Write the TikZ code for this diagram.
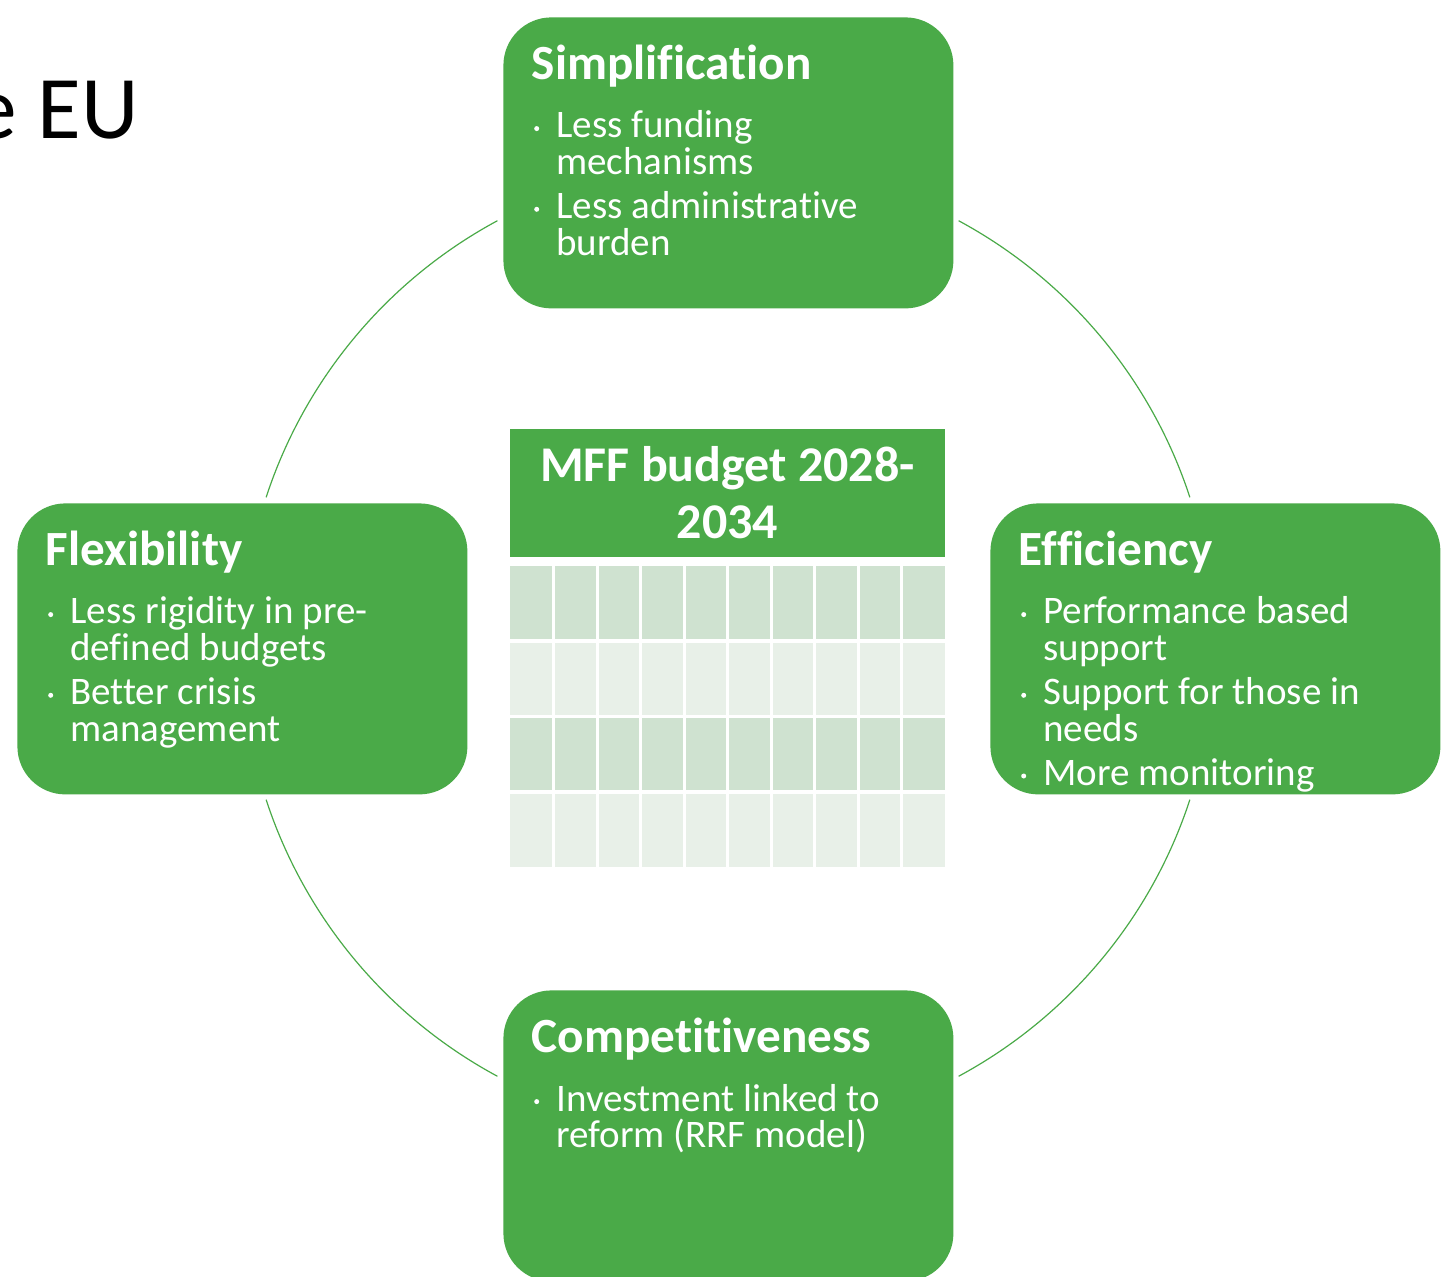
\documentclass[tikz,border=0pt]{standalone}
\usepackage{fontspec}
\setmainfont{Carlito}[Ligatures=NoCommon]
\definecolor{leaf}{HTML}{4AAA48}
\definecolor{rowdark}{HTML}{CFE2D0}
\definecolor{rowlight}{HTML}{E8F0E8}

% one bullet line of a card: name, baseline (relative to card top), text
\newcommand\itemline[3]{\node[itemtxt] (#1) at (53,#2) {#3};}
% the small round bullet in front of a line
\newcommand\itemdot[1]{\fill[white] (33.7,{#1-9.4}) circle[radius=2.5];}

\begin{document}
\begin{tikzpicture}[x=0.5pt,y=-0.5pt,
  card/.style={fill=leaf, rounded corners=24pt, minimum width=225pt,
    minimum height=145.5pt, inner sep=0pt, draw=none, anchor=north west},
  headtxt/.style={anchor=base west, inner sep=0pt, text=white,
    font=\fontsize{24.6}{28}\bfseries\selectfont},
  itemtxt/.style={anchor=base west, inner sep=0pt, text=white,
    font=\fontsize{19.5}{22}\selectfont},
  ring/.style={draw=leaf, line width=0.6pt},
]
\clip (0,0) rectangle (1445,1277);
\fill[white] (0,0) rectangle (1445,1277);

% slide title, partly off the left edge
\node[anchor=base east, inner sep=0pt, font=\fontsize{44.7}{50}\selectfont]
  (title) at (139,139) {e EU};

% the ring joining the four cards
\coordinate (hub) at (728,648.5);
\draw[ring] (hub) ++(-118.33:486) arc[start angle=-118.33, end angle=-161.88, radius=486];
\draw[ring] (hub) ++(-61.67:486) arc[start angle=-61.67, end angle=-18.12, radius=486];
\draw[ring] (hub) ++(18.12:486) arc[start angle=18.12, end angle=61.67, radius=486];
\draw[ring] (hub) ++(161.88:486) arc[start angle=161.88, end angle=118.33, radius=486];

% the four cards
\node[card] (simp) at (503,17) {};
\node[card] (flex) at (17,503) {};
\node[card] (effi) at (990,503) {};
\node[card] (comp) at (503,990) {};

\begin{scope}[shift={(simp.north west)}]
  \node[headtxt] (simpT) at (28.5,62.5) {Simplification};
  \itemdot{121}
  \itemline{simp1}{121}{Less funding}
  \itemline{simp2}{157.7}{mechanisms}
  \itemdot{201.7}
  \itemline{simp3}{201.7}{Less administrative}
  \itemline{simp4}{238.4}{burden}
\end{scope}

\begin{scope}[shift={(flex.north west)}]
  \node[headtxt] (flexT) at (28.5,62.5) {Flexibility};
  \itemdot{121}
  \itemline{flex1}{121}{Less rigidity in pre-}
  \itemline{flex2}{157.7}{defined budgets}
  \itemdot{201.7}
  \itemline{flex3}{201.7}{Better crisis}
  \itemline{flex4}{238.4}{management}
\end{scope}

\begin{scope}[shift={(effi.north west)}]
  \node[headtxt] (effiT) at (28.5,62.5) {Efficiency};
  \itemdot{121}
  \itemline{effi1}{121}{Performance based}
  \itemline{effi2}{157.7}{support}
  \itemdot{201.7}
  \itemline{effi3}{201.7}{Support for those in}
  \itemline{effi4}{238.4}{needs}
  \itemdot{282.4}
  \itemline{effi5}{282.4}{More monitoring}
\end{scope}

\begin{scope}[shift={(comp.north west)}]
  \node[headtxt] (compT) at (28.5,62.5) {Competitiveness};
  \itemdot{121}
  \itemline{comp1}{121}{Investment linked to}
  \itemline{comp2}{157.7}{reform (RRF model)}
\end{scope}

% central table: green header and striped grid
\node[fill=leaf, minimum width=217.5pt, minimum height=64pt, inner sep=0pt]
  (hdr) at (727.5,493.5) {};
\node[anchor=base, inner sep=0pt, text=white, font=\fontsize{25}{28}\bfseries\selectfont]
  (hdr1) at (727.5,482) {MFF budget 2028-};
\node[anchor=base, inner sep=0pt, text=white, font=\fontsize{25}{28}\bfseries\selectfont]
  (hdr2) at (727.5,538.5) {2034};

\foreach \r/\c in {0/rowdark,1/rowlight,2/rowdark,3/rowlight}
  \fill[\c] (510,{565.7+75.4*\r}) rectangle (945,{565.7+75.4*(\r+1)});
\foreach \r in {1,2,3}
  \draw[white, line width=1.7pt] (510,{565.7+75.4*\r}) -- (945,{565.7+75.4*\r});
\foreach \k in {1,...,9}
  \draw[white, line width=1.5pt] ({510+43.5*\k},565.7) -- ({510+43.5*\k},867.3);
\end{tikzpicture}
\end{document}
